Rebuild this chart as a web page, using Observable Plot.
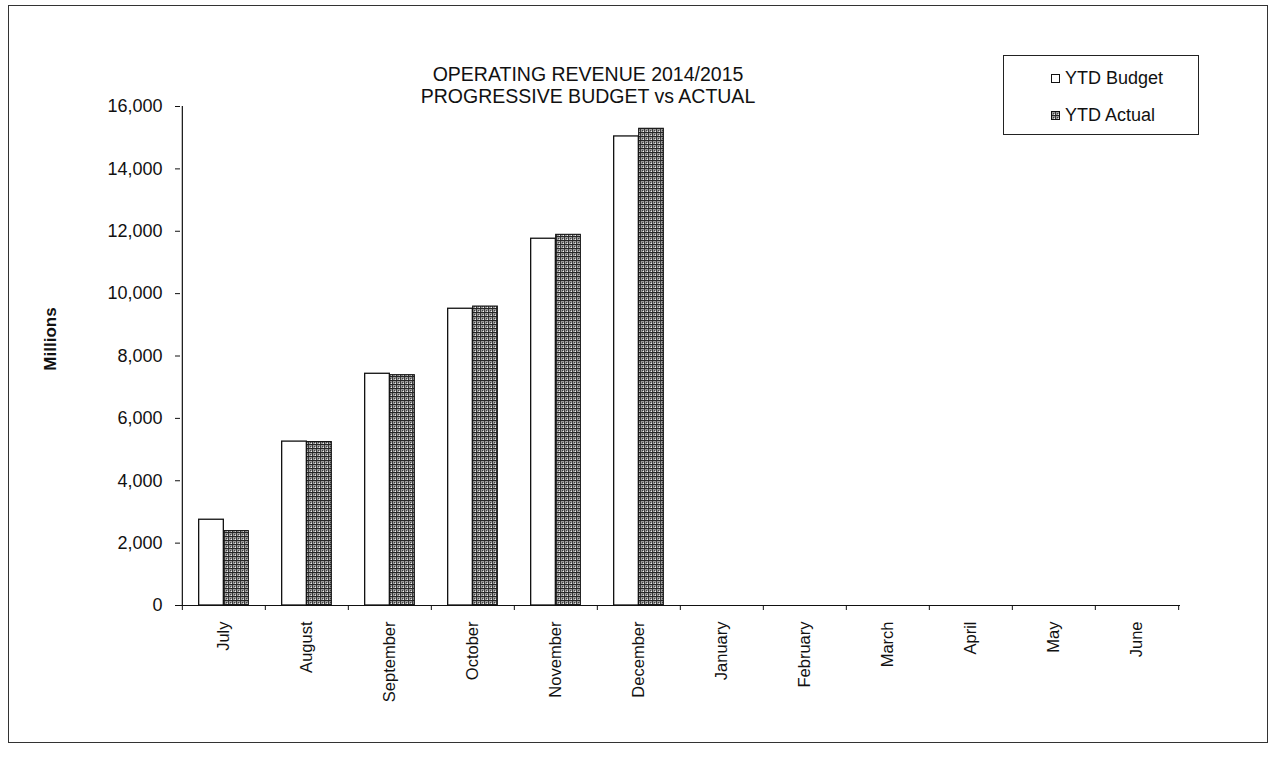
<!DOCTYPE html>
<html>
<head>
<meta charset="utf-8">
<script src="https://cdn.jsdelivr.net/npm/d3@7"></script>
<script src="https://cdn.jsdelivr.net/npm/@observablehq/plot@0.6"></script>
<style>
  body { margin: 0; background: #fff; font-family: "Liberation Sans", Arial, sans-serif; color: #111; }
  #wrap { position: relative; width: 1274px; height: 760px; overflow: hidden; }
  #wrap > svg { position: absolute; left: 0; top: 0; }
  .frame { position: absolute; left: 8px; top: 5px; width: 1260px; height: 738px; border: 1px solid #333; box-sizing: border-box; }
  .title { position: absolute; left: 338px; width: 500px; top: 63px; text-align: center; font-size: 19.5px; line-height: 22px; }
  .ylabel { position: absolute; left: 51px; top: 339px; font-size: 17px; font-weight: bold; transform: translate(-50%, -50%) rotate(-90deg); white-space: nowrap; }
  .legend { position: absolute; left: 1003px; top: 55px; width: 196px; height: 80px; border: 1px solid #222; box-sizing: border-box; font-size: 18px; }
  .legend .item { position: absolute; left: 47px; display: flex; align-items: center; white-space: nowrap; }
  .legend .sw { width: 9px; height: 9px; border: 1px solid #111; margin-right: 5px; box-sizing: border-box; }
</style>
</head>
<body>
<div id="wrap">
  <div class="frame"></div>
  <div class="title">OPERATING REVENUE 2014/2015<br>PROGRESSIVE BUDGET vs ACTUAL</div>
  <div class="ylabel">Millions</div>
  <div class="legend">
    <div class="item" style="top:12px"><div class="sw" style="background:#fff"></div>YTD Budget</div>
    <div class="item" style="top:49px"><svg width="9" height="9" style="margin-right:5px"><rect x="0.5" y="0.5" width="8" height="8" fill="url(#stipple)" stroke="#111"/></svg>YTD Actual</div>
  </div>
</div>
<script>
// Fiscal-year months, July to June
const months = ["July", "August", "September", "October", "November", "December",
                "January", "February", "March", "April", "May", "June"];
// Cumulative operating revenue, millions (null = not yet reported)
const ytdBudget = [2750, 5255, 7430, 9515, 11760, 15040, null, null, null, null, null, null];
const ytdActual = [2385, 5240, 7385, 9585, 11885, 15285, null, null, null, null, null, null];
// Value-axis ticks
const yTicks = [0, 2000, 4000, 6000, 8000, 10000, 12000, 14000, 16000];

const rows = months.map((m, i) => ({month: m, budget: ytdBudget[i], actual: ytdActual[i]}));

const W = 1274, H = 760;
const mL = 180, mR = 94, mT = 106, mB = 155;
const step = (W - mL - mR) / months.length;
const font = '"Liberation Sans", Arial, sans-serif';

const chart = Plot.plot({
  width: W,
  height: H,
  marginLeft: mL,
  marginRight: mR,
  marginTop: mT,
  marginBottom: mB,
  style: {fontFamily: font, color: "#111", background: "transparent"},
  x: {type: "band", domain: months, padding: 0, axis: null},
  y: {domain: [0, 16000], axis: null},
  marks: [
    // budget bars (left half of each month)
    Plot.barY(rows, {x: "month", y1: 0, y2: "budget", fill: "white", stroke: "#111", strokeWidth: 1.3,
      insetLeft: step * 0.2, insetRight: step * 0.5}),
    // actual bars (right half), stippled fill
    Plot.barY(rows, {x: "month", y1: 0, y2: "actual", fill: "url(#stipple)", stroke: "#111", strokeWidth: 1.1,
      insetLeft: step * 0.5, insetRight: step * 0.2}),
    // category axis baseline and boundary ticks
    Plot.ruleY([0], {stroke: "#111", strokeWidth: 1.2}),
    Plot.ruleX(months, {x: d => d, y1: 0, y2: 0, dx: -step / 2, insetBottom: -5, stroke: "#111"}),
    Plot.ruleX([months[months.length - 1]], {x: d => d, y1: 0, y2: 0, dx: step / 2, insetBottom: -5, stroke: "#111"}),
    // value axis line
    Plot.ruleX([months[0]], {x: d => d, y1: 0, y2: 16000, dx: -step / 2, stroke: "#111", strokeWidth: 1.2}),
    Plot.axisY({ticks: yTicks, tickSize: 5, tickPadding: 13, tickFormat: d3.format(","), fontSize: 18, label: null, stroke: "#111"}),
    Plot.axisX({tickSize: 0, tickPadding: 16, tickRotate: -90, fontSize: 16.5, label: null})
  ]
});

// stipple pattern used by the actual bars
const defs = d3.select(chart).insert("defs", ":first-child");
const pat = defs.append("pattern").attr("id", "stipple")
  .attr("width", 4).attr("height", 4).attr("patternUnits", "userSpaceOnUse");
pat.append("rect").attr("width", 4).attr("height", 4).attr("fill", "#9a9a9a");
pat.append("rect").attr("x", 0).attr("y", 0).attr("width", 4).attr("height", 1).attr("fill", "#262626");
pat.append("rect").attr("x", 0).attr("y", 1).attr("width", 1).attr("height", 3).attr("fill", "#3a3a3a");
pat.append("rect").attr("x", 2).attr("y", 2).attr("width", 1).attr("height", 1).attr("fill", "#404040");
pat.append("rect").attr("x", 3).attr("y", 3).attr("width", 1).attr("height", 1).attr("fill", "#eee");

document.getElementById("wrap").prepend(chart);
</script>
</body>
</html>
